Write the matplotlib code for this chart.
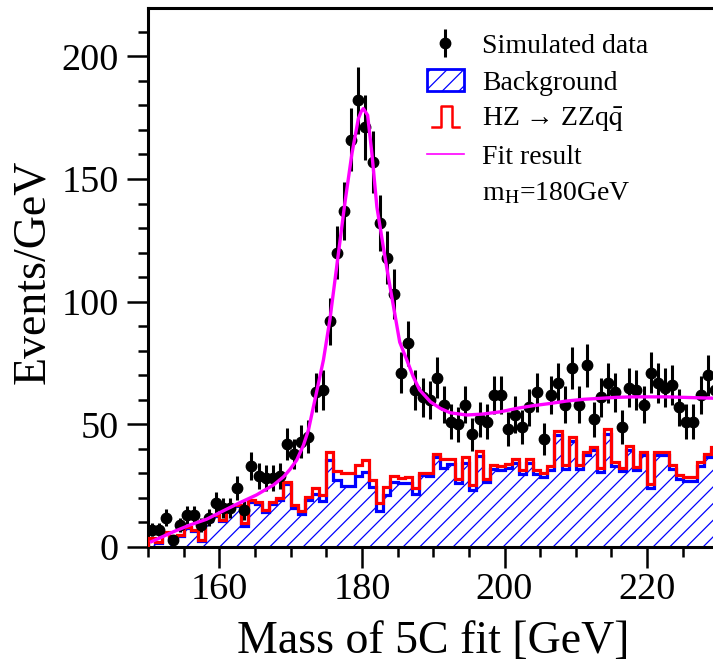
import numpy as np
import matplotlib
matplotlib.use("Agg")
import matplotlib.pyplot as plt
from matplotlib.ticker import MultipleLocator
from matplotlib.patches import Patch
from matplotlib.lines import Line2D
from matplotlib.legend_handler import HandlerBase

plt.rcParams['font.family'] = ['Liberation Serif', 'DejaVu Serif']
plt.rcParams['mathtext.fontset'] = 'stix'
plt.rcParams['hatch.linewidth'] = 0.9

# 1 GeV bins from 150 to 230 GeV
mass_lo, mass_hi = 150, 230
edges = np.arange(mass_lo, mass_hi + 1, 1)

# simulated data, events per bin
data = [7, 7, 12, 3, 9, 13, 13, 9, 12, 18,
        16, 16, 24, 15, 33, 29, 28, 28, 29, 42,
        38, 43, 45, 63, 64, 92, 120, 137, 166, 182,
        171, 157, 132, 118, 103, 71, 83, 64, 61, 60,
        69, 58, 51, 50, 58, 46, 52, 51, 62, 62,
        48, 54, 49, 57, 63, 44, 62, 67, 58, 73,
        58, 74, 52, 61, 67, 63, 49, 65, 64, 58,
        71, 67, 65, 66, 57, 51, 51, 62, 70, 64]

# background + HZ->ZZqq (stacked total, red line)
total = [3.5, 2.0, 6.0, 4.5, 4.8, 8.3, 7.0, 2.9, 11.0, 13.0,
         11.0, 17.0, 17.0, 9.6, 19.0, 18.5, 15.0, 18.5, 19.8, 26.6,
         17.1, 14.8, 20.5, 23.9, 21.2, 38.8, 31.0, 30.0, 30.0, 33.4,
         35.4, 27.3, 17.8, 24.6, 29.0, 28.0, 28.4, 23.9, 30.0, 30.0,
         37.9, 35.7, 35.7, 27.9, 36.8, 25.1, 39.1, 27.9, 33.3, 32.9,
         33.7, 35.7, 31.4, 35.7, 31.4, 30.0, 32.9, 47.4, 33.3, 45.0,
         33.3, 38.8, 40.9, 32.0, 47.9, 34.7, 32.3, 41.1, 32.7, 38.8,
         25.7, 38.8, 38.8, 33.3, 29.3, 28.6, 28.6, 34.7, 38.1, 40.6]

# HZ -> ZZqq contribution on top of the background
signal = [0.4, 0.4, 0.4, 0.4, 0.4, 0.4, 0.4, 0.4, 0.4, 0.4,
          0.4, 0.4, 0.4, 1.0, 0.8, 0.8, 0.8, 0.8, 0.8, 1.0,
          1.2, 1.5, 1.2, 2.1, 2.3, 3.4, 3.8, 5.2, 5.0, 4.5,
          4.7, 2.7, 3.0, 3.4, 2.4, 1.8, 2.5, 2.3, 0.7, 1.0,
          1.1, 3.4, 1.8, 2.0, 2.5, 2.0, 2.0, 1.5, 1.5, 1.5,
          1.5, 1.5, 1.5, 1.5, 1.5, 1.5, 1.5, 1.8, 1.5, 1.8,
          1.5, 1.5, 1.5, 1.5, 1.8, 1.5, 1.5, 1.5, 1.5, 1.5,
          1.5, 1.5, 1.5, 1.5, 1.5, 1.5, 1.5, 1.5, 1.5, 1.5]

# fit result
fit_mass = [150.5, 153.55, 155.9, 158.2, 160.6, 162.9, 165.2, 167.6, 169.0, 169.9,
            170.85, 171.8, 172.5, 173.2, 173.9, 174.6, 175.5, 176.7, 177.6, 178.6,
            179.5, 179.9, 180.2, 180.8, 181.4, 182.1, 183.0, 183.7, 184.6, 185.3,
            186.3, 187.2, 188.1, 189.6, 191.0, 192.4, 194.7, 197.0, 199.4, 201.7,
            204.0, 206.4, 208.7, 211.1, 213.4, 215.7, 218.1, 222.8, 227.4, 230.0]
fit_value = [2.2, 6.2, 9.0, 11.3, 14.8, 18.1, 21.2, 25.3, 28.6, 31.6,
             35.4, 41.5, 47.7, 57.2, 66.7, 76.2, 92.5, 119.6, 140.0, 160.4,
             174.6, 177.5, 178.7, 176.0, 160.4, 138.6, 122.3, 110.1, 95.2, 83.5,
             76.2, 69.4, 64.0, 59.2, 56.5, 54.7, 53.8, 54.2, 55.1, 56.5,
             57.6, 58.5, 59.5, 60.2, 60.6, 61.0, 61.2, 61.2, 60.8, 60.6]


class StepHandler(HandlerBase):
    # little "pulse" symbol like ROOT draws for a line histogram
    def create_artists(self, legend, orig_handle, xdescent, ydescent,
                       width, height, fontsize, trans):
        x0, y0 = -xdescent, -ydescent
        xs = [x0 + 0.14 * width, x0 + 0.37 * width, x0 + 0.37 * width,
              x0 + 0.69 * width, x0 + 0.69 * width, x0 + 0.86 * width]
        ys = [y0, y0, y0 + height, y0 + height, y0, y0]
        line = Line2D(xs, ys, color=orig_handle.get_color(),
                      lw=orig_handle.get_linewidth(), transform=trans)
        return [line]


def main():
    fig = plt.figure(figsize=(7.13, 6.64), dpi=100)
    ax = fig.add_axes([0.2076, 0.1762, 0.800, 0.811])

    bkg = np.array(total) - np.array(signal)
    centers = 0.5 * (edges[:-1] + edges[1:])
    data_arr = np.array(data, dtype=float)

    ax.stairs(bkg, edges, fill=True, facecolor='white', edgecolor='blue',
              hatch='//', linewidth=0, zorder=1)
    ax.stairs(bkg, edges, color='blue', linewidth=2.3, zorder=2)
    ax.stairs(total, edges, color='red', linewidth=2.3, zorder=3)

    eb = ax.errorbar(centers, data_arr, yerr=np.sqrt(data_arr), fmt='o',
                     color='black', markersize=7.5, elinewidth=2.2,
                     capsize=0, zorder=4)
    ax.plot(fit_mass, fit_value, color='magenta', linewidth=2.4, zorder=5)

    ax.set_xlim(mass_lo, mass_hi)
    ax.set_ylim(0, 219.5)
    ax.xaxis.set_major_locator(MultipleLocator(20))
    ax.xaxis.set_minor_locator(MultipleLocator(5))
    ax.yaxis.set_major_locator(MultipleLocator(50))
    ax.yaxis.set_minor_locator(MultipleLocator(10))
    ax.tick_params(which='major', direction='out', length=15, width=1.8,
                   labelsize=27.5)
    ax.tick_params(which='minor', direction='out', length=7.5, width=1.8)
    ax.tick_params(axis='x', which='major', pad=3)
    ax.tick_params(axis='y', which='major', pad=6)
    for s in ax.spines.values():
        s.set_linewidth(2.2)

    fig.text(433 / 713, 11 / 664, 'Mass of 5C fit [GeV]', fontsize=33,
             ha='center', va='baseline')
    fig.text(44 / 713, 1 - 272 / 664, 'Events/GeV', fontsize=33,
             ha='center', va='baseline', rotation=90, rotation_mode='anchor')

    bkg_proxy = Patch(facecolor='white', edgecolor='blue', hatch='//',
                      linewidth=2.0)
    sig_proxy = Line2D([], [], color='red', linewidth=1.8)
    fit_proxy = Line2D([], [], color='magenta', linewidth=1.2)
    blank = Line2D([], [], linestyle='none')
    handles = [eb, bkg_proxy, sig_proxy, fit_proxy, blank]
    labels = ['Simulated data', 'Background',
              'HZ \u2192 ZZq$\\bar{\\mathrm{q}}$', 'Fit result',
              r'm$_{\mathrm{H}}$=180GeV']
    ax.legend(handles, labels, loc='upper left',
              bbox_to_anchor=(427 / 713, 1 - 33 / 664),
              bbox_transform=fig.transFigure, frameon=False, fontsize=20,
              handlelength=1.33, handleheight=0.8, handletextpad=0.65,
              labelspacing=0.36, borderpad=0, borderaxespad=0,
              handler_map={sig_proxy: StepHandler()})

    fig.savefig('out.png', dpi=100)


if __name__ == "__main__":
    main()
